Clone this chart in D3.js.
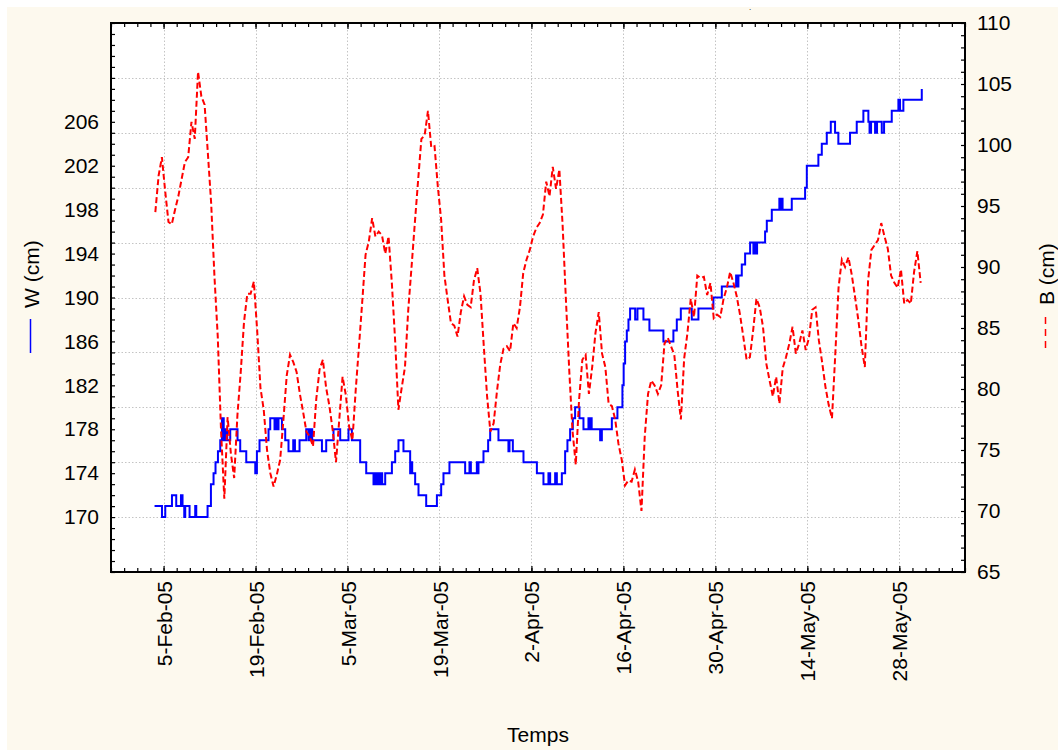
<!DOCTYPE html>
<html>
<head>
<meta charset="utf-8">
<script src="https://cdn.jsdelivr.net/npm/d3@7"></script>
<style>
  body { margin: 0; background: #ffffff; }
  svg text { font-family: "Liberation Sans", Arial, sans-serif; fill: #000; }
</style>
</head>
<body>
<svg id="chart" width="1058" height="753"></svg>
<script>
// ---------------- DATA ----------------
// W (cm): step series, change points given as days after 5-Feb-2005
const wDays = [-1.37,-0.24,0.26,1.28,1.93,2.65,2.89,3.15,3.30,3.96,4.82,4.98,6.70,7.21,7.61,7.91,8.28,8.63,8.89,9.16,9.39,9.69,10.15,11.26,11.67,12.59,13.96,14.21,14.61,15.98,16.24,16.89,17.15,17.35,17.50,18.02,18.52,19.02,19.74,20.00,20.70,21.72,22.07,22.33,22.63,24.11,24.76,25.87,26.89,28.15,28.67,29.93,30.85,31.96,32.22,32.37,32.67,32.83,33.13,33.28,33.74,34.76,35.26,35.76,36.52,37.54,37.70,37.85,38.30,38.81,39.98,41.61,42.26,42.61,43.52,45.91,46.57,46.78,47.69,47.85,47.94,48.70,49.41,49.72,50.98,52.50,52.66,53.17,54.79,56.83,57.83,58.59,58.85,59.61,59.87,60.63,61.13,61.48,61.89,62.30,62.65,63.31,63.92,64.68,64.86,65.01,65.17,66.46,66.72,68.24,69.09,69.85,70.04,70.26,70.52,70.77,71.02,71.79,72.14,73.05,73.96,76.09,77.61,78.13,78.74,80.41,81.42,83.70,84.98,87.16,87.31,87.51,88.02,88.53,89.29,89.79,90.05,90.20,90.35,91.57,91.83,92.59,93.74,93.93,94.08,94.23,95.63,97.66,97.92,99.68,100.20,100.96,101.57,102.22,102.72,104.50,105.52,106.53,107.29,107.47,107.70,108.31,108.61,109.33,109.68,110.85,111.86,112.11,112.62,115.42];
const wValues = [171,170,171,172,171,172,171,170,171,170,171,170,171,173,174,175,176,177,179,177,178,177,178,177,176,175,174,176,177,178,179,178,179,178,179,178,177,176,177,176,177,178,177,178,177,176,177,178,177,178,177,175,174,173,174,173,174,173,174,173,174,175,176,177,176,174,175,174,173,172,171,172,173,174,175,174,175,174,175,174,175,176,177,178,177,176,177,176,175,174,173,174,173,174,173,174,176,177,178,179,180,179,178,179,178,179,178,177,178,179,180,182,184,186,187,188,189,188,189,188,187,186,187,188,189,188,189,190,191,192,191,192,193,194,195,194,195,194,195,196,197,198,199,198,199,198,199,200,202,203,204,205,206,205,204,205,206,207,206,205,206,205,206,205,206,207,208,207,208,209];

// B (cm): readings every half day, starting 1.25 days before 5-Feb-2005
const bStartDay = -1.25;
const bStepDay = 0.5;
const bValues = [
 94.5,97.5,99.0,96.2,93.7,93.5,94.7,95.8,97.2,98.6,
 99.0,101.9,100.5,106.0,104.0,103.3,99.3,95.2,89.2,84.3,
 76.6,71.0,77.7,74.7,72.7,77.9,81.4,85.5,87.8,87.8,
 88.8,84.8,80.1,78.3,75.0,73.1,72.0,73.0,74.2,77.5,
 81.1,82.8,82.2,81.4,79.6,78.1,76.5,76.1,75.3,79.2,
 81.6,82.4,80.1,78.6,76.6,74.0,77.5,81.0,79.5,76.9,
 75.8,79.9,83.5,87.2,91.0,92.1,94.0,92.5,92.9,92.6,
 91.1,92.5,88.7,84.0,78.3,80.1,81.8,86.5,90.0,93.6,
 97.1,100.5,100.8,102.8,99.8,99.9,96.6,93.9,89.3,87.3,
 85.4,85.2,84.3,86.3,87.6,86.9,86.7,88.9,89.9,87.8,
 83.5,79.4,76.5,77.2,79.8,82.0,83.3,83.5,83.1,85.4,
 85.0,86.7,89.5,90.6,91.4,92.5,93.2,93.6,94.3,97.0,
 95.8,98.2,96.4,98.0,93.4,87.3,81.6,76.6,73.8,79.1,
 82.4,82.8,79.6,81.8,84.6,86.3,82.9,81.8,78.8,78.6,
 77.5,75.5,74.2,72.1,72.5,72.4,73.4,72.4,70.0,76.1,
 79.6,80.7,80.3,79.6,80.3,83.7,84.2,83.5,82.8,79.9,
 77.5,82.5,84.6,87.4,85.9,89.3,89.1,89.2,87.7,88.7,
 85.8,86.1,85.9,87.4,88.3,89.6,88.7,87.6,86.1,84.3,
 82.4,82.6,84.8,87.4,86.7,85.1,82.1,80.7,79.4,81.0,
 78.8,81.7,82.6,83.7,85.1,82.9,83.7,84.8,83.2,84.2,
 86.5,86.7,84.0,82.2,80.2,78.7,77.6,82.8,88.3,90.6,
 90.0,90.8,89.4,87.6,85.7,83.5,81.8,88.9,91.4,91.8,
 92.2,93.6,92.5,91.5,89.3,88.7,88.3,89.8,87.0,87.3,
 87.0,89.6,91.3,88.7
];

const dateTicks = ["2005-02-05","2005-02-19","2005-03-05","2005-03-19","2005-04-02","2005-04-16","2005-04-30","2005-05-14","2005-05-28"];
const dateTickLabels = ["5-Feb-05","19-Feb-05","5-Mar-05","19-Mar-05","2-Apr-05","16-Apr-05","30-Apr-05","14-May-05","28-May-05"];
const wTickLabels = [170,174,178,182,186,190,194,198,202,206];
const wGridValues = [170,175,180,185,190,195,200,205,210];
const bTickLabels = [65,70,75,80,85,90,95,100,105,110];
const xAxisTitle = "Temps";
const wLegend = "W (cm)";
const bLegend = "B (cm)";
const chartTitle = ".";

// ---------------- CHART ----------------
const svg = d3.select("#chart");
const W = 1058, H = 753;
const P = { left: 111, right: 965, top: 23, bottom: 572 };
const DAY = 86400000;
const origin = Date.UTC(2005, 1, 5);
const toDate = d => new Date(origin + d * DAY);

const x = d3.scaleUtc()
  .domain([new Date(Date.UTC(2005, 0, 28)), new Date(Date.UTC(2005, 5, 7))])
  .range([P.left, P.right]);
const yW = d3.scaleLinear().domain([165, 215]).range([P.bottom, P.top]);
const yB = d3.scaleLinear().domain([65, 110]).range([P.bottom, P.top]);

// background panel
svg.append("rect").attr("x", 0).attr("y", 0).attr("width", W).attr("height", H).attr("fill", "#ffffff");
svg.append("rect").attr("x", 7).attr("y", 7).attr("width", W - 7).attr("height", H - 10).attr("fill", "#fdf9ee");
svg.append("rect").attr("x", P.left).attr("y", P.top)
  .attr("width", P.right - P.left).attr("height", P.bottom - P.top).attr("fill", "#ffffff");

// grid
const grid = svg.append("g").attr("stroke", "#c4c4c4").attr("stroke-width", 1).attr("stroke-dasharray", "1.5,2");
const tickDates = dateTicks.map(s => new Date(s + "T00:00:00Z"));
grid.selectAll("line.v").data(tickDates).join("line")
  .attr("x1", d => Math.round(x(d)) + 0.5).attr("x2", d => Math.round(x(d)) + 0.5)
  .attr("y1", P.top).attr("y2", P.bottom);
grid.selectAll("line.h").data(wGridValues).join("line")
  .attr("y1", d => Math.round(yW(d)) + 0.5).attr("y2", d => Math.round(yW(d)) + 0.5)
  .attr("x1", P.left).attr("x2", P.right);

// series
const wData = wDays.map((d, i) => ({ t: toDate(d), v: wValues[i] }));
const bData = bValues.map((v, i) => ({ t: toDate(bStartDay + i * bStepDay), v }));

svg.append("path").datum(wData)
  .attr("fill", "none").attr("stroke", "#0000ff").attr("stroke-width", 2)
  .attr("d", d3.line().curve(d3.curveStepAfter).x(d => x(d.t)).y(d => yW(d.v)));

svg.append("path").datum(bData)
  .attr("fill", "none").attr("stroke", "#ff0000").attr("stroke-width", 2)
  .attr("stroke-dasharray", "6,3")
  .attr("d", d3.line().x(d => x(d.t)).y(d => yB(d.v)));

// axes
const minorDates = d3.range(0, 131, 2).map(k => new Date(Date.UTC(2005, 0, 28) + k * DAY));
const font = "21px";

function styleAxis(g) {
  g.select(".domain").remove();
  g.selectAll("line").attr("stroke", "#000").attr("stroke-width", 1.2);
}

// left
svg.append("g").attr("transform", `translate(${P.left},0)`)
  .call(d3.axisLeft(yW).tickValues(d3.range(165, 216, 1)).tickSize(-4).tickFormat(""))
  .call(styleAxis);
svg.append("g").attr("transform", `translate(${P.left},0)`)
  .call(d3.axisLeft(yW).tickValues(wTickLabels).tickSize(0).tickPadding(12))
  .call(g => g.select(".domain").remove())
  .call(g => g.selectAll("text").attr("font-size", font).attr("font-family", "Liberation Sans, Arial, sans-serif"));

// right
svg.append("g").attr("transform", `translate(${P.right},0)`)
  .call(d3.axisRight(yB).tickValues(d3.range(65, 111, 1)).tickSize(-4).tickFormat(""))
  .call(styleAxis);
svg.append("g").attr("transform", `translate(${P.right},0)`)
  .call(d3.axisRight(yB).tickValues(bTickLabels).tickSize(0).tickPadding(12))
  .call(g => g.select(".domain").remove())
  .call(g => g.selectAll("text").attr("font-size", font).attr("font-family", "Liberation Sans, Arial, sans-serif"));

// bottom & top minor ticks
svg.append("g").attr("transform", `translate(0,${P.bottom})`)
  .call(d3.axisBottom(x).tickValues(minorDates).tickSize(-4).tickFormat(""))
  .call(styleAxis);
svg.append("g").attr("transform", `translate(0,${P.top})`)
  .call(d3.axisTop(x).tickValues(minorDates).tickSize(-4).tickFormat(""))
  .call(styleAxis);
svg.append("g").attr("transform", `translate(0,${P.top})`)
  .call(d3.axisTop(x).tickValues(tickDates).tickSize(-6).tickFormat(""))
  .call(styleAxis);

// bottom major ticks + rotated labels
svg.append("g").attr("transform", `translate(0,${P.bottom})`)
  .call(d3.axisBottom(x).tickValues(tickDates).tickSize(-6).tickFormat((d, i) => dateTickLabels[i]))
  .call(styleAxis)
  .call(g => g.selectAll("text")
    .attr("transform", "rotate(-90)")
    .attr("text-anchor", "end")
    .attr("x", -9).attr("y", 0).attr("dy", "0.36em")
    .attr("font-size", font).attr("font-family", "Liberation Sans, Arial, sans-serif"));

// frame
svg.append("rect").attr("x", P.left).attr("y", P.top)
  .attr("width", P.right - P.left).attr("height", P.bottom - P.top)
  .attr("fill", "none").attr("stroke", "#000").attr("stroke-width", 2);

// axis title
svg.append("text").attr("x", (P.left + P.right) / 2).attr("y", 742)
  .attr("text-anchor", "middle").attr("font-size", font).text(xAxisTitle);

// left legend (rotated)
svg.append("line").attr("x1", 30.5).attr("x2", 30.5).attr("y1", 319).attr("y2", 353)
  .attr("stroke", "#0000ff").attr("stroke-width", 1.5);
svg.append("text").attr("transform", "translate(39,308) rotate(-90)")
  .attr("text-anchor", "start").attr("font-size", font).text(wLegend);

// right legend (rotated)
svg.append("line").attr("x1", 1045.5).attr("x2", 1045.5).attr("y1", 317).attr("y2", 351)
  .attr("stroke", "#ff0000").attr("stroke-width", 1.5).attr("stroke-dasharray", "7,5");
svg.append("text").attr("transform", "translate(1054,305) rotate(-90)")
  .attr("text-anchor", "start").attr("font-size", font).text(bLegend);

// tiny title mark
svg.append("text").attr("x", 749).attr("y", 10).attr("font-size", "8px").text(chartTitle);
</script>
</body>
</html>
